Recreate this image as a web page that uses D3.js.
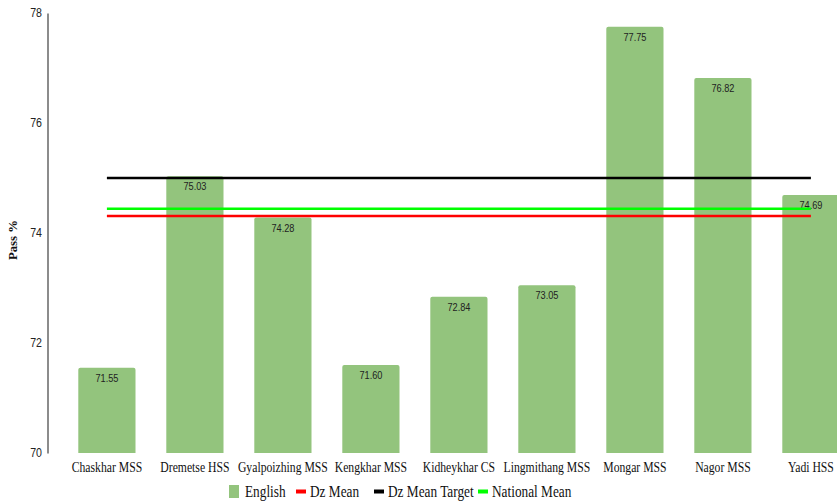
<!DOCTYPE html>
<html>
<head>
<meta charset="utf-8">
<script src="https://cdn.jsdelivr.net/npm/d3@7"></script>
<style>
  html, body { margin: 0; padding: 0; background: #fff; }
  svg { display: block; }
</style>
</head>
<body>
<svg id="chart" width="837" height="504"></svg>
<script>
// School-wise English pass percentages with reference means
const schools = ["Chaskhar MSS", "Dremetse HSS", "Gyalpoizhing MSS", "Kengkhar MSS",
  "Kidheykhar CS", "Lingmithang MSS", "Mongar MSS", "Nagor MSS", "Yadi HSS"];
const english = [71.55, 75.03, 74.28, 71.60, 72.84, 73.05, 77.75, 76.82, 74.69];
const dzMean = 74.31;
const dzMeanTarget = 75.0;
const nationalMean = 74.44;
const yTicks = [70, 72, 74, 76, 78];
const legendItems = ["English", "Dz Mean", "Dz Mean Target", "National Mean"];
const legendColors = ["#93c47d", "#ff0000", "#000000", "#00ff00"];

const SANS = "'Liberation Sans', Arial, sans-serif";
const SERIF = "'Liberation Serif', 'Times New Roman', serif";

const svg = d3.select("#chart");
const axisX = 47.5;

const x = d3.scaleBand()
  .domain(schools)
  .range([axisX, axisX + 88 * 9.35])
  .paddingInner(0.35)
  .paddingOuter(0.35);

const y = d3.scaleLinear().domain([70, 78]).range([453, 13]);

// Condensed text: a group placed at (px, py) and squeezed horizontally
function narrowText(parent, px, py, sx, str, opts) {
  const g = parent.append("g").attr("transform", `translate(${px},${py}) scale(${sx},1)`);
  const t = g.append("text")
    .attr("x", 0).attr("y", 0)
    .attr("text-anchor", opts.anchor || "middle")
    .attr("font-family", opts.family)
    .attr("font-size", opts.size)
    .attr("fill", opts.fill || "#111")
    .text(str);
  if (opts.weight) t.attr("font-weight", opts.weight);
  return g;
}

// Y axis: a plain grey line with condensed labels
const yAxis = svg.append("g")
  .attr("transform", `translate(${axisX},0)`)
  .call(d3.axisLeft(y).tickValues(yTicks).tickSize(0).tickFormat(() => ""));
yAxis.select(".domain").attr("stroke", "#666").attr("stroke-width", 1.5);
const yLab = svg.append("g");
yTicks.forEach(t => narrowText(yLab, 42, y(t) + 4, 0.85, d3.format("d")(t),
  { anchor: "end", family: SANS, size: 12.5, fill: "#222" }));

// Y title
const yTitle = svg.append("g").attr("transform", "translate(17,240) rotate(-90)");
narrowText(yTitle, 0, 0, 0.95, "Pass %", { family: SERIF, size: 13.5, weight: "bold" });

// Bars with slightly rounded top corners
const bars = svg.append("g");
bars.selectAll("path")
  .data(english)
  .join("path")
  .attr("fill", "#93c47d")
  .attr("d", (d, i) => {
    const x0 = x(schools[i]), w = x.bandwidth(), y0 = y(d), y1 = y(70), r = 2;
    return `M${x0},${y1}V${y0 + r}Q${x0},${y0} ${x0 + r},${y0}H${x0 + w - r}Q${x0 + w},${y0} ${x0 + w},${y0 + r}V${y1}Z`;
  });

// Value labels inside bar tops
const vals = svg.append("g");
english.forEach((d, i) => narrowText(vals, x(schools[i]) + x.bandwidth() / 2, y(d) + 14, 0.8,
  d.toFixed(2), { family: SANS, size: 11.5, fill: "#222" }));

// Reference lines spanning first to last bar centre
const xStart = x(schools[0]) + x.bandwidth() / 2;
const xEnd = x(schools[schools.length - 1]) + x.bandwidth() / 2;
const refs = [
  { v: dzMeanTarget, c: "#000000" },
  { v: nationalMean, c: "#00ff00" },
  { v: dzMean, c: "#ff0000" }
];
svg.append("g").selectAll("line")
  .data(refs)
  .join("line")
  .attr("x1", xStart).attr("x2", xEnd)
  .attr("y1", d => y(d.v)).attr("y2", d => y(d.v))
  .attr("stroke", d => d.c)
  .attr("stroke-width", 2.5);

// X category labels
const xl = svg.append("g");
schools.forEach(s => narrowText(xl, x(s) + x.bandwidth() / 2, 472, 0.78, s,
  { family: SERIF, size: 15 }));

// Legend
const legendX = [229, 296, 374, 478];
const lg = svg.append("g");
legendItems.forEach((name, i) => {
  const g = lg.append("g").attr("transform", `translate(${legendX[i]},491)`);
  if (i === 0) {
    g.append("rect").attr("x", 0).attr("y", -6).attr("width", 10).attr("height", 13).attr("fill", legendColors[i]);
  } else {
    g.append("rect").attr("x", 0).attr("y", -1.5).attr("width", 10).attr("height", 4).attr("fill", legendColors[i]);
  }
  narrowText(g, i === 0 ? 16 : 14, 6, 0.76, name, { anchor: "start", family: SERIF, size: 17.5 });
});
</script>
</body>
</html>
